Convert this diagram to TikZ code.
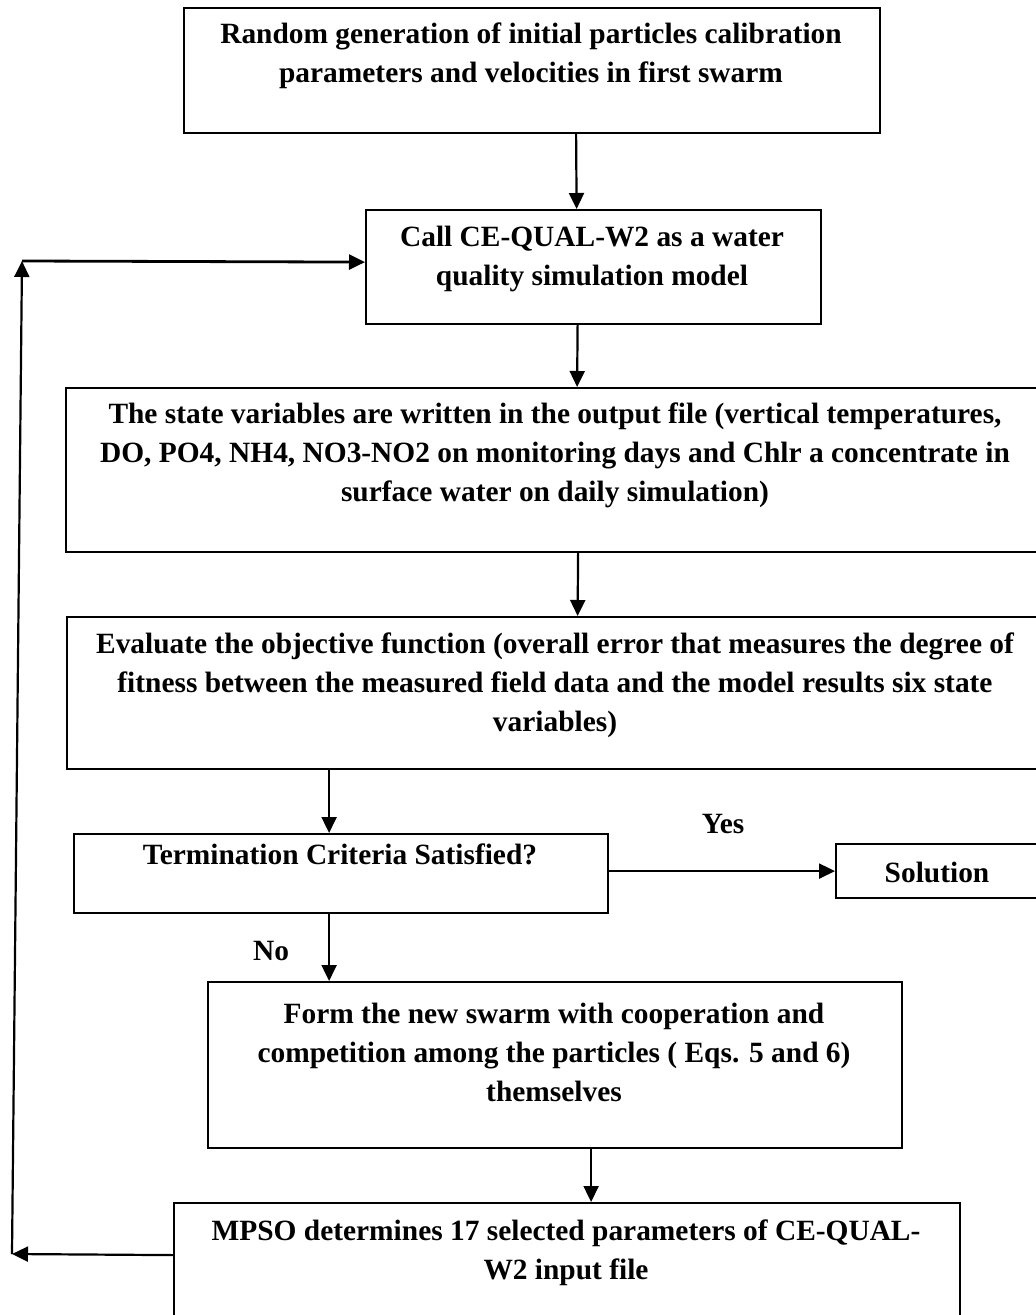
\documentclass[tikz,border=0pt]{standalone}
\usepackage{fontspec}
\setmainfont{Liberation Serif}
\usepackage{tikz}
\usetikzlibrary{positioning,arrows.meta}

\begin{document}
\begin{tikzpicture}[x=0.5pt, y=-0.5pt,
		box/.style={draw, line width=1.1pt, anchor=north west, inner sep=0pt},
		txt/.style={align=center, inner sep=0pt, font=\bfseries\fontsize{14.7pt}{19.5pt}\selectfont},
		arr/.style={line width=1.1pt, -{Triangle[length=8pt,width=7.5pt]}}]
\useasboundingbox (0,0) rectangle (1036,1315);

\node[box, minimum width=348pt, minimum height=62.5pt] (init) at (183,7) {};
\node[txt] (initT) at (531,56) {Random generation of initial particles calibration\\ parameters and velocities in first swarm};

\node[box, minimum width=227.5pt, minimum height=57pt] (call) at (365,209) {};
\node[txt] (callT) at (592,259) {Call CE-QUAL-W2 as a water\\ quality simulation model};

\node[box, minimum width=490pt, minimum height=82pt] (state) at (65,387) {};
\node[txt] (stateT) at (555,455) {The state variables are written in the output file (vertical temperatures,\\ DO, PO4, NH4, NO3-NO2 on monitoring days and Chlr a concentrate in\\ surface water on daily simulation)};

\node[box, minimum width=489.5pt, minimum height=76pt] (eval) at (66,616) {};
\node[txt] (evalT) at (555,685) {Evaluate the objective function (overall error that measures the degree of\\ fitness between the measured field data and the model results six state\\ variables)};

\node[box, minimum width=267pt, minimum height=39.5pt] (term) at (73,833) {};
\node[txt] (termT) at (340,854) {Termination Criteria Satisfied?};

\node[box, minimum width=102.5pt, minimum height=27pt] (sol) at (835,843) {};
\node[txt] (solT) at (937,872) {Solution};

\node[box, minimum width=347pt, minimum height=83pt] (swarm) at (207,981) {};
\node[txt] (swarmT) at (554,1052) {Form the new swarm with cooperation and\\ competition among the particles ( Eqs. 5 and 6)\\ themselves};

\node[box, minimum width=393pt, minimum height=64pt] (mpso) at (173,1202) {};
\node[txt] (mpsoT) at (566,1253) {MPSO determines 17 selected parameters of CE-QUAL-\\ W2 input file};

\node[txt] (yes) at (723,824) {Yes};
\node[txt] (no) at (271,951) {No};

\coordinate (loopB) at (12,1254);
\coordinate (loopT) at (22,261);

\draw[arr] ([xshift=22pt]init.south) -- ([xshift=-8.5pt]call.north);
\draw[arr] ([xshift=-8pt]call.south) -- ([xshift=10.5pt]state.north);
\draw[arr] ([xshift=11pt]state.south) -- ([xshift=10.5pt]eval.north);
\draw[arr] ([xshift=-113.75pt]eval.south) -- ([xshift=-6pt]term.north);
\draw[arr] (term.east |- sol.west) -- (sol.west);
\draw[arr] ([xshift=-6pt]term.south) -- ([xshift=-113pt]swarm.north);
\draw[arr] ([xshift=18pt]swarm.south) -- ([xshift=12pt]mpso.north);
\draw[arr] ([yshift=6pt]mpso.west) -- (loopB);
\draw[arr] (loopB) -- (loopT);
\draw[arr, line width=1.4pt] (loopT) -- ([yshift=2.5pt]call.west);
\end{tikzpicture}
\end{document}
